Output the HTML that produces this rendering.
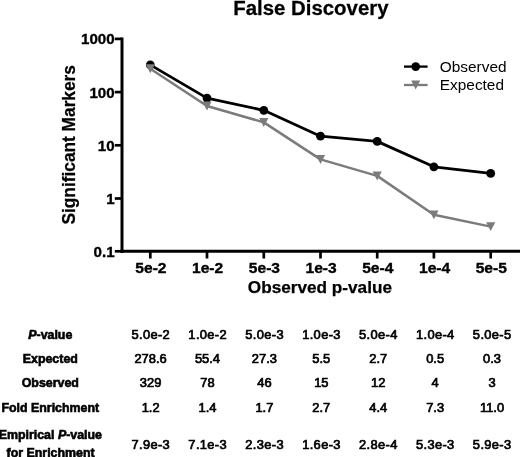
<!DOCTYPE html>
<html><head><meta charset="utf-8"><title>False Discovery</title>
<style>
html,body{margin:0;padding:0;background:#fff;}
body{width:520px;height:457px;overflow:hidden;}
svg{display:block;}
text{font-family:"Liberation Sans",sans-serif;fill:#000;}
.b{font-weight:bold;stroke:#000;stroke-width:0.25px;}
.tick{font-weight:bold;font-size:15.1px;stroke:#000;stroke-width:0.35px;}
.tbl{font-size:12.9px;stroke:#000;stroke-width:0.7px;}
.lbl{font-size:12.4px;font-weight:bold;stroke:#000;stroke-width:0.6px;}
</style></head><body>
<svg width="520" height="457" viewBox="0 0 520 457">
<rect width="520" height="457" fill="#fff"/>

<text class="b" font-size="20" text-anchor="middle" transform="translate(310.9 14.5) scale(1.02 1)">False Discovery</text>
<g stroke="#000" stroke-width="3" fill="none" stroke-linecap="butt">
<path d="M122 37.5V252.8"/>
<path d="M120.5 251.3H520"/>
</g><g stroke="#000" stroke-width="2.7" fill="none">
<path d="M114.8 38.9H122"/>
<path d="M114.8 92.1H122"/>
<path d="M114.8 145.3H122"/>
<path d="M114.8 198.5H122"/>
<path d="M114.8 251.3H122"/>
<path d="M150.3 251.3V258.5"/>
<path d="M207.0 251.3V258.5"/>
<path d="M263.8 251.3V258.5"/>
<path d="M320.5 251.3V258.5"/>
<path d="M377.2 251.3V258.5"/>
<path d="M433.9 251.3V258.5"/>
<path d="M490.7 251.3V258.5"/>
</g>
<text class="tick" x="114.6" y="44.4" text-anchor="end">1000</text>
<text class="tick" x="114.6" y="97.6" text-anchor="end">100</text>
<text class="tick" x="114.6" y="150.8" text-anchor="end">10</text>
<text class="tick" x="114.6" y="204.0" text-anchor="end">1</text>
<text class="tick" x="114.6" y="257.2" text-anchor="end">0.1</text>
<text class="tick" text-anchor="middle" transform="translate(150.9 272.6) scale(1.035 1)">5e-2</text>
<text class="tick" text-anchor="middle" transform="translate(207.6 272.6) scale(1.035 1)">1e-2</text>
<text class="tick" text-anchor="middle" transform="translate(264.4 272.6) scale(1.035 1)">5e-3</text>
<text class="tick" text-anchor="middle" transform="translate(321.1 272.6) scale(1.035 1)">1e-3</text>
<text class="tick" text-anchor="middle" transform="translate(377.8 272.6) scale(1.035 1)">5e-4</text>
<text class="tick" text-anchor="middle" transform="translate(434.6 272.6) scale(1.035 1)">1e-4</text>
<text class="tick" text-anchor="middle" transform="translate(491.3 272.6) scale(1.035 1)">5e-5</text>
<text class="b" x="319.9" y="293" font-size="17.2" text-anchor="middle">Observed p-value</text>
<text class="b" font-size="17.3" text-anchor="middle" transform="translate(74.5 144.8) rotate(-90) scale(1 1.03)">Significant Markers</text>
<polyline points="150.3,68.7 207.0,106.0 263.8,122.4 320.5,159.4 377.2,175.9 433.9,214.8 490.7,226.6" fill="none" stroke="#7b7b7b" stroke-width="2.5" stroke-linejoin="round"/>
<polyline points="150.3,64.9 207.0,98.1 263.8,110.3 320.5,136.2 377.2,141.4 433.9,166.8 490.7,173.4" fill="none" stroke="#000" stroke-width="2.8" stroke-linejoin="round"/>
<circle cx="150.3" cy="64.9" r="4.4" fill="#000"/>
<circle cx="207.0" cy="98.1" r="4.4" fill="#000"/>
<circle cx="263.8" cy="110.3" r="4.4" fill="#000"/>
<circle cx="320.5" cy="136.2" r="4.4" fill="#000"/>
<circle cx="377.2" cy="141.4" r="4.4" fill="#000"/>
<circle cx="433.9" cy="166.8" r="4.4" fill="#000"/>
<circle cx="490.7" cy="173.4" r="4.4" fill="#000"/>
<path d="M145.7 64.3H154.9L150.3 73.2Z" fill="#7b7b7b"/>
<path d="M202.4 101.6H211.6L207.0 110.5Z" fill="#7b7b7b"/>
<path d="M259.2 118.0H268.4L263.8 126.9Z" fill="#7b7b7b"/>
<path d="M315.9 155.0H325.1L320.5 163.9Z" fill="#7b7b7b"/>
<path d="M372.6 171.5H381.8L377.2 180.4Z" fill="#7b7b7b"/>
<path d="M429.3 210.4H438.6L433.9 219.3Z" fill="#7b7b7b"/>
<path d="M486.1 222.2H495.3L490.7 231.1Z" fill="#7b7b7b"/>
<path d="M404 66.6H427.6" stroke="#000" stroke-width="2.3"/><circle cx="415.7" cy="66.6" r="4.4"/>
<path d="M404 85H427.6" stroke="#7b7b7b" stroke-width="2.3"/><path d="M411.2 80.5H420.2L415.7 89.4Z" fill="#7b7b7b"/>
<text x="439.8" y="72.2" font-size="15.4">Observed</text>
<text x="439.8" y="89.5" font-size="15.4">Expected</text>
<text class="lbl" x="50.3" y="338.6" text-anchor="middle"><tspan font-style="italic">P</tspan>-value</text>
<text class="tbl" x="150.8" y="338.6" text-anchor="middle" letter-spacing="0.35">5.0e-2</text>
<text class="tbl" x="207.7" y="338.6" text-anchor="middle" letter-spacing="0.35">1.0e-2</text>
<text class="tbl" x="264.6" y="338.6" text-anchor="middle" letter-spacing="0.35">5.0e-3</text>
<text class="tbl" x="321.5" y="338.6" text-anchor="middle" letter-spacing="0.35">1.0e-3</text>
<text class="tbl" x="378.4" y="338.6" text-anchor="middle" letter-spacing="0.35">5.0e-4</text>
<text class="tbl" x="435.3" y="338.6" text-anchor="middle" letter-spacing="0.35">1.0e-4</text>
<text class="tbl" x="492.2" y="338.6" text-anchor="middle" letter-spacing="0.35">5.0e-5</text>
<text class="lbl" x="50.3" y="362.9" text-anchor="middle">Expected</text>
<text class="tbl" x="150.6" y="362.9" text-anchor="middle">278.6</text>
<text class="tbl" x="207.5" y="362.9" text-anchor="middle">55.4</text>
<text class="tbl" x="264.4" y="362.9" text-anchor="middle">27.3</text>
<text class="tbl" x="321.3" y="362.9" text-anchor="middle">5.5</text>
<text class="tbl" x="378.2" y="362.9" text-anchor="middle">2.7</text>
<text class="tbl" x="435.1" y="362.9" text-anchor="middle">0.5</text>
<text class="tbl" x="492.0" y="362.9" text-anchor="middle">0.3</text>
<text class="lbl" x="50.3" y="387.2" text-anchor="middle">Observed</text>
<text class="tbl" x="150.6" y="387.2" text-anchor="middle">329</text>
<text class="tbl" x="207.5" y="387.2" text-anchor="middle">78</text>
<text class="tbl" x="264.4" y="387.2" text-anchor="middle">46</text>
<text class="tbl" x="321.3" y="387.2" text-anchor="middle">15</text>
<text class="tbl" x="378.2" y="387.2" text-anchor="middle">12</text>
<text class="tbl" x="435.1" y="387.2" text-anchor="middle">4</text>
<text class="tbl" x="492.0" y="387.2" text-anchor="middle">3</text>
<text class="lbl" x="50.3" y="412.2" text-anchor="middle">Fold Enrichment</text>
<text class="tbl" x="150.6" y="412.2" text-anchor="middle">1.2</text>
<text class="tbl" x="207.5" y="412.2" text-anchor="middle">1.4</text>
<text class="tbl" x="264.4" y="412.2" text-anchor="middle">1.7</text>
<text class="tbl" x="321.3" y="412.2" text-anchor="middle">2.7</text>
<text class="tbl" x="378.2" y="412.2" text-anchor="middle">4.4</text>
<text class="tbl" x="435.1" y="412.2" text-anchor="middle">7.3</text>
<text class="tbl" x="492.0" y="412.2" text-anchor="middle">11.0</text>
<text class="lbl" x="50.3" y="439.4" text-anchor="middle">Empirical <tspan font-style="italic">P</tspan>-value</text>
<text class="lbl" x="50.6" y="456.6" text-anchor="middle">for Enrichment</text>
<text class="tbl" x="150.8" y="448.5" text-anchor="middle" letter-spacing="0.35">7.9e-3</text>
<text class="tbl" x="207.7" y="448.5" text-anchor="middle" letter-spacing="0.35">7.1e-3</text>
<text class="tbl" x="264.6" y="448.5" text-anchor="middle" letter-spacing="0.35">2.3e-3</text>
<text class="tbl" x="321.5" y="448.5" text-anchor="middle" letter-spacing="0.35">1.6e-3</text>
<text class="tbl" x="378.4" y="448.5" text-anchor="middle" letter-spacing="0.35">2.8e-4</text>
<text class="tbl" x="435.3" y="448.5" text-anchor="middle" letter-spacing="0.35">5.3e-3</text>
<text class="tbl" x="492.2" y="448.5" text-anchor="middle" letter-spacing="0.35">5.9e-3</text>
</svg></body></html>
